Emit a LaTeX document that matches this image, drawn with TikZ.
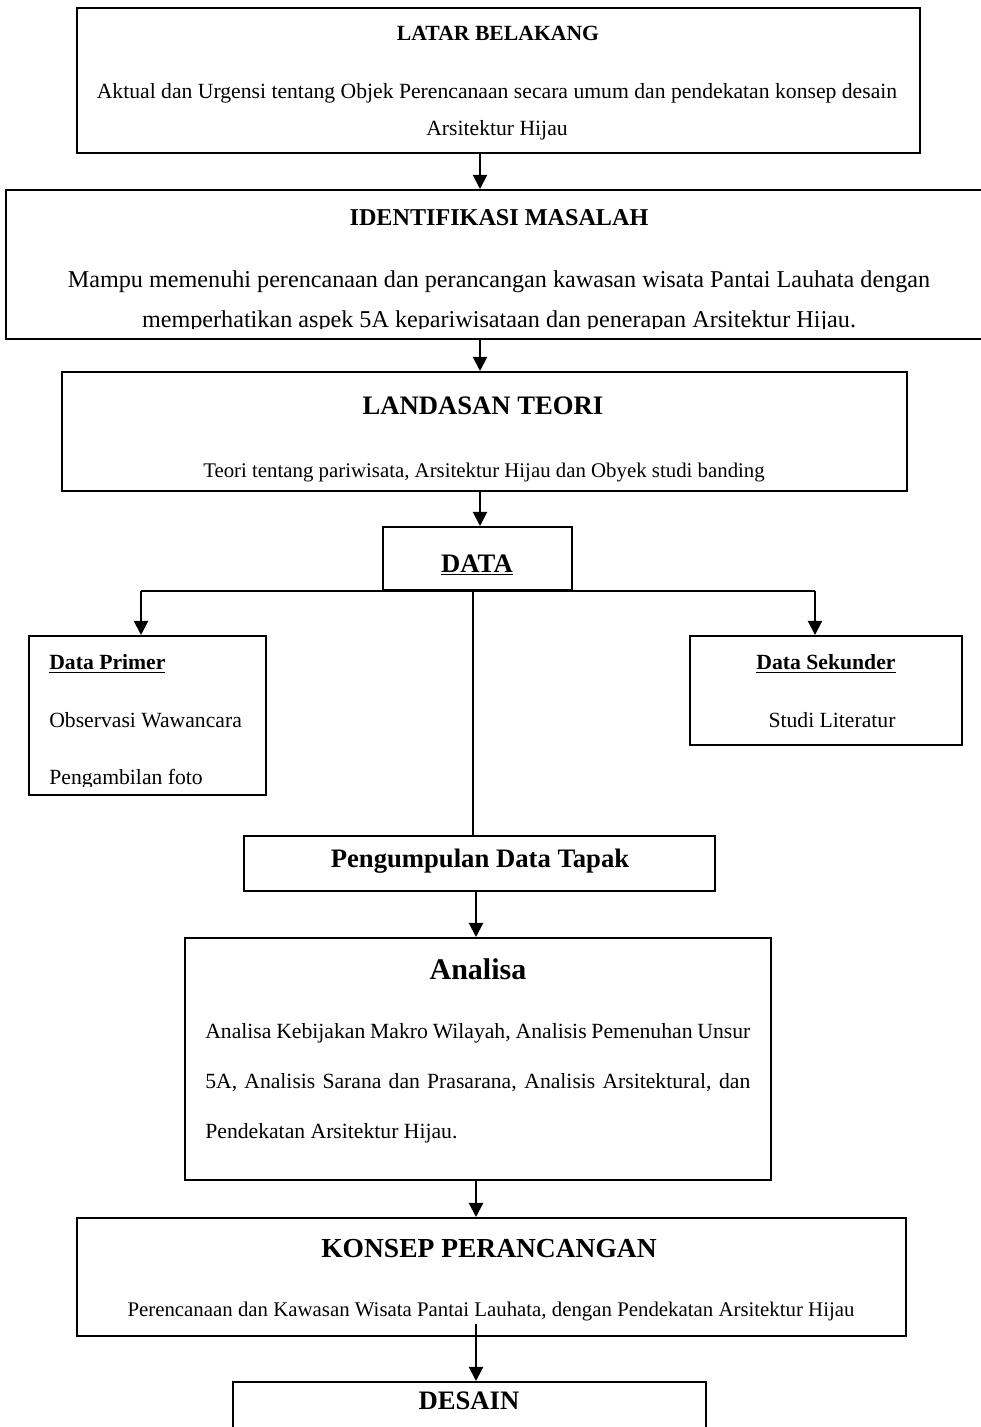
\documentclass[tikz,border=0pt]{standalone}
\usepackage{fontspec}
\setmainfont{Liberation Serif}
\usetikzlibrary{arrows.meta,positioning,fit}

\tikzset{
	kotak/.style={draw, line width=1.2pt, inner sep=0pt},
	judul/.style={font=\bfseries\fontsize{16}{19}\selectfont, inner sep=0pt},
	isi/.style={font=\fontsize{13}{22}\selectfont, align=center, inner sep=0pt},
	panah/.style={line width=1.2pt, -{Triangle[length=8.5pt,width=8.5pt]}},
	garis/.style={line width=1.2pt},
}

\begin{document}
\begin{tikzpicture}[x=0.6pt, y=-0.6pt]
	\useasboundingbox (0,0) rectangle (980,1427);
	\coordinate (sumbu) at (480,0);
	\coordinate (sumbuB) at (476,0);
	\coordinate (kiri) at (141,0);
	\coordinate (kanan) at (815,0);
	\coordinate (tengah) at (473,0);

	% kotak-kotak
	\node[kotak, fit={(77,8) (920,153)}] (latar) {};
	\node[kotak, fit={(6,190) (990,339)}] (masalah) {};
	\node[kotak, fit={(62,372) (907,491)}] (teori) {};
	\node[kotak, fit={(383,527) (572,590)}] (data) {};
	\node[kotak, fit={(29,636) (266,795)}] (primer) {};
	\node[kotak, fit={(690,636) (962,745)}] (sekunder) {};
	\node[kotak, fit={(244,836) (715,891)}] (tapak) {};
	\node[kotak, fit={(185,938) (771,1180)}] (analisa) {};
	\node[kotak, fit={(77,1218) (906,1336)}] (konsep) {};
	\node[kotak, fit={(233,1382) (706,1440)}] (desain) {};

	% teks
	\node[judul, font=\bfseries\fontsize{13}{16}\selectfont] (latarJ) at (498,33) {LATAR BELAKANG};
	\node[isi, anchor=base] (latarA) at (497,98) {Aktual dan Urgensi tentang Objek Perencanaan secara umum dan pendekatan konsep desain};
	\node[isi, anchor=base] (latarB) at (497,135) {Arsitektur Hijau};
	\node[judul, font=\bfseries\fontsize{14.5}{17}\selectfont] (masalahJ) at (499,218) {IDENTIFIKASI MASALAH};
	\node[isi, font=\fontsize{14.5}{17}\selectfont, anchor=base] (masalahA) at (499,287) {Mampu memenuhi perencanaan dan perancangan kawasan wisata Pantai Lauhata dengan};
	\begin{scope}
		\clip (6,190) rectangle (990,328);
		\node[isi, font=\fontsize{14.5}{17}\selectfont, anchor=base] (masalahB) at (499,327) {memperhatikan aspek 5A kepariwisataan dan penerapan Arsitektur Hijau.};
	\end{scope}
	\node[judul] (teoriJ) at (483,406) {LANDASAN TEORI};
	\node[isi, font=\fontsize{12.5}{20}\selectfont] (teoriT) at (484,473) {Teori tentang pariwisata, Arsitektur Hijau dan Obyek studi banding};
	\node[judul] (dataJ) at (477,565) {\underline{DATA}};
	\node[judul, font=\bfseries\fontsize{13}{16}\selectfont, anchor=west] (primerJ) at (49,664) {\underline{Data Primer}};
	\node[isi, anchor=west] (primerA) at (49,720) {Observasi Wawancara};
	\begin{scope}
		\clip (29,636) rectangle (266,786);
		\node[isi, anchor=base west] (primerB) at (49,784) {Pengambilan foto};
	\end{scope}
	\node[judul, font=\bfseries\fontsize{13}{16}\selectfont] (sekunderJ) at (826,664) {\underline{Data Sekunder}};
	\node[isi] (sekunderT) at (832,720) {Studi Literatur};
	\node[judul] (tapakJ) at (480,861) {Pengumpulan Data Tapak};
	\node[judul, font=\bfseries\fontsize{18}{21}\selectfont] (analisaJ) at (478,969) {Analisa};
	\node[isi, anchor=north west, text width=327pt, align=justify, font=\fontsize{13}{30}\selectfont] (analisaT) at (205,1023) {Analisa Kebijakan Makro Wilayah, Analisis Pemenuhan Unsur 5A, Analisis Sarana dan Prasarana, Analisis Arsitektural, dan Pendekatan Arsitektur Hijau.};
	\node[judul, font=\bfseries\fontsize{16.5}{19}\selectfont] (konsepJ) at (489,1249) {KONSEP PERANCANGAN};
	\node[isi, font=\fontsize{12.5}{20}\selectfont] (konsepT) at (491,1312) {Perencanaan dan Kawasan Wisata Pantai Lauhata, dengan Pendekatan Arsitektur Hijau};
	\node[judul] (desainJ) at (469,1401) {DESAIN};

	% panah
	\draw[panah] (latar.south -| sumbu) -- (masalah.north -| sumbu);
	\draw[panah] (masalah.south -| sumbu) -- (teori.north -| sumbu);
	\draw[panah] (teori.south -| sumbu) -- (data.north -| sumbu);
	\draw[garis] (data.south -| kiri) -- (data.south -| kanan);
	\draw[panah] (data.south -| kiri) -- (primer.north -| kiri);
	\draw[panah] (data.south -| kanan) -- (sekunder.north -| kanan);
	\draw[line width=0.7pt] (data.south -| tengah) -- (tapak.north -| tengah);
	\draw[panah] (tapak.south -| sumbuB) -- (analisa.north -| sumbuB);
	\draw[panah] (analisa.south -| sumbuB) -- (konsep.north -| sumbuB);
	\draw[panah] ([yshift=8pt]konsep.south -| sumbuB) -- (desain.north -| sumbuB);
\end{tikzpicture}
\end{document}
